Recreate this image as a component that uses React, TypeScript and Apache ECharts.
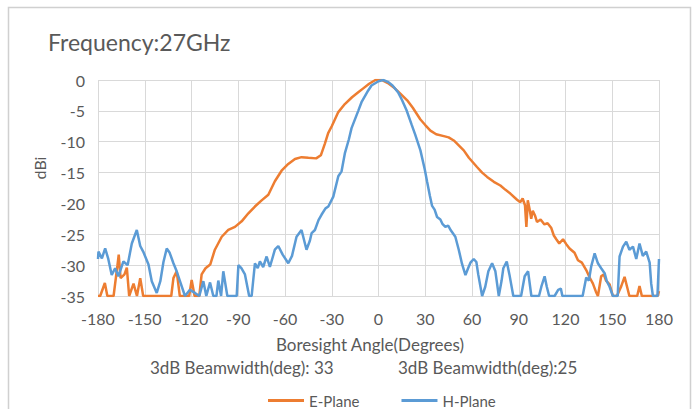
import React, { useEffect, useRef } from "react";
import * as echarts from "echarts";

const titleText = "Frequency:27GHz";
const xAxisTitle = "Boresight Angle(Degrees)";
const yAxisTitle = "dBi";
const beamwidthLabels = ["3dB Beamwidth(deg): 33", "3dB Beamwidth(deg):25"];
const seriesNames = ["E-Plane", "H-Plane"];
const seriesColors = ["#ED7D31", "#5B9BD5"];

const ePlaneAngles = [
  -180, -178.6, -175.6, -174, -170, -167.5, -166.7, -165.5, -163, -161.5, -160, -157.2, -155, -152.9, -151,
  -133, -131.6, -129.5, -127.5, -121.5, -119.9, -118, -115, -113.5, -111, -108, -105, -100.6, -96.4, -92.1,
  -87.8, -83.5, -79.3, -75, -70.7, -66.5, -62.2, -57.9, -53.6, -49.4, -45, -40, -37, -34.4, -32.3, -30,
  -25.8, -21.6, -17, -13, -10, -6, -2, 2, 6, 9.8, 14, 18.4, 22, 26.9, 30, 33.3, 37, 41.9, 45, 48.3, 51.5,
  54.7, 58, 63.2, 66.5, 69.7, 74, 78.2, 81.5, 84.6, 88.9, 91, 92.5, 94, 94.9, 95.8, 97, 98, 99, 100.5, 101.7,
  104, 106.5, 108.5, 110.9, 112.5, 114.1, 116, 118.4, 120.5, 122.6, 125.8, 128, 130.5, 133.3, 135.5, 137.6,
  139.5, 140.8, 142.9, 144.5, 146, 148.3, 150.4, 153, 155.8, 157.9, 159.5, 161, 166, 167.5, 169, 179, 180,
];
const ePlaneGain = [
  -35, -35, -32.9, -35, -35, -30, -28.3, -32.1, -31.5, -30.4, -35, -33, -35, -32.1, -35,
  -35, -32.1, -31, -35, -35, -32.4, -35, -35, -31.5, -30.5, -29.9, -27.5, -25.4, -24.3, -23.8,
  -22.9, -21.6, -20.5, -19.5, -18.6, -16.4, -14.7, -13.6, -12.8, -12.5, -12.6, -12.7, -12.2, -10.3, -8.6, -7.5,
  -5.2, -3.9, -2.8, -2.0, -1.4, -0.6, 0, 0, -0.5, -1.2, -2.2, -3.3, -4.5, -6.4, -7.3, -8.2, -8.8, -9.1, -9.3, -9.8, -10.6,
  -11.4, -12.6, -14.1, -15, -15.7, -16.5, -17.1, -17.8, -18.4, -19.4, -19.8, -19.2, -20.3, -23.8, -19.5, -21, -22.5, -21.2, -22, -23,
  -22.6, -23.4, -23.2, -24, -25.2, -25.8, -26.5, -25.8, -26.6, -27.3, -28, -29.2, -29.6, -30.8, -32, -33,
  -34.3, -35, -31.8, -31.5, -32.5, -33.1, -35, -35, -33.4, -31.9, -33.5, -35, -35, -33.4, -35, -35, -34.2,
];

const hPlaneAngles = [
  -180, -179.7, -177.5, -175.4, -173.5, -171.2, -169, -166.9, -163.7, -161, -158.3, -155.1, -152.9, -151,
  -147.6, -145.5, -142.3, -140, -138, -135.9, -134, -131.6, -129.5, -127.4, -124.2, -121, -117.8, -115,
  -112.4, -110.5, -108.1, -106, -104, -102.8, -101, -99.6, -97, -91, -89.9, -88, -85.7, -83, -81.4, -79.3,
  -77.5, -76.1, -74, -71.8, -69.7, -66.5, -64.3, -61.5, -57.9, -55.5, -52.6, -49.4, -46.2, -44, -42.9,
  -40.8, -38.5, -36.5, -34, -32.2, -29, -25.8, -23.7, -21.6, -19, -17.3, -13, -10.9, -6.6, -4.5, 0, 3, 6,
  9, 12.6, 15, 18, 21.2, 23.5, 26.9, 29.7, 31.2, 33, 34.4, 36, 37.6, 39.7, 41, 42.9, 44.7, 46.5, 49.3, 51.5,
  53.6, 55.8, 57.5, 59, 61.1, 62.8, 64, 66.5, 68.5, 70.5, 72.9, 75, 77.2, 79, 80.1, 82.3, 84, 86.5, 91.5,
  93.8, 96, 98.1, 103, 104.5, 106.6, 108, 109.5, 113, 115.3, 117, 118, 131, 133.3, 135, 136.5, 138.7, 140.8,
  142.9, 145.1, 146.5, 148.3, 150.4, 153.5, 154.7, 156.9, 159, 161, 163.3, 165.4, 167.5, 169.6, 171.8, 174,
  175, 176.1, 179, 180,
];
const hPlaneGain = [
  -29, -27.8, -28.9, -27.3, -28.9, -31.6, -30.5, -31.8, -29.4, -30, -26.5, -24.3, -26.9, -27.8,
  -29.9, -32.6, -34.5, -32.6, -29.5, -27.3, -28, -29.7, -31, -32.6, -35, -34, -34.5, -35,
  -32.6, -35, -32.8, -35, -35, -32.5, -35, -31, -35, -35, -30, -30.5, -31.5, -35, -35, -29.7,
  -30.5, -29.4, -30.3, -28.6, -30.3, -27.5, -26.9, -28.3, -29.7, -28.5, -25.4, -24.3, -27.5, -26, -24.8,
  -24.3, -22.7, -21.8, -20.8, -20.5, -18.9, -15.6, -14.8, -11.9, -9.6, -7.8, -5.0, -3.6, -1.7, -0.9, -0.2, 0, -0.3,
  -0.9, -2.0, -3.2, -4.9, -7.2, -8.8, -11.4, -14.5, -16.5, -18.8, -20.4, -21, -22.2, -22.6, -23.3, -23.8, -23.6, -24.4, -25.4, -27.5,
  -29.8, -31.6, -30.5, -29.6, -29, -29.5, -31.5, -35, -33.5, -31, -29.7, -31, -35, -32.5, -30.5, -29.4, -31.5, -35, -35,
  -31.8, -31, -35, -35, -33.5, -31.8, -33.5, -35, -35, -34, -33.8, -35, -35, -32, -32.5, -30.2, -28.1, -29.7,
  -30.5, -31.3, -32.6, -33.5, -35, -35, -28.6, -27, -26.2, -27.5, -27, -29, -26.5, -28.5, -27.8, -29.6,
  -33, -35, -35, -29,
];

const zip = (xs: number[], ys: number[]) => xs.map((x, i) => [x, ys[i]]);

const FONT = "Lato, 'Open Sans', sans-serif";
const TEXT = "#595959";

export default function App() {
  const ref = useRef<HTMLDivElement>(null);
  useEffect(() => {
    if (!ref.current) return;
    const chart = echarts.init(ref.current, undefined, { renderer: "svg" });
    chart.setOption({
      animation: false,
      backgroundColor: "#ffffff",
      textStyle: { fontFamily: FONT },
      grid: { left: 98, right: 37, top: 80, height: 216, containLabel: false },
      xAxis: {
        type: "value",
        min: -180,
        max: 180,
        interval: 30,
        axisLine: { show: false },
        axisTick: { show: false },
        axisLabel: { color: TEXT, fontSize: 16, fontFamily: FONT, margin: 14 },
        splitLine: { show: true, lineStyle: { color: "#d9d9d9", width: 1 } },
      },
      yAxis: {
        type: "value",
        min: -35,
        max: 0,
        interval: 5,
        axisLine: { show: false },
        axisTick: { show: false },
        axisLabel: { color: TEXT, fontSize: 16, fontFamily: FONT, margin: 13 },
        splitLine: { show: true, lineStyle: { color: "#d9d9d9", width: 1 } },
      },
      legend: {
        data: seriesNames,
        left: 263,
        top: 388,
        icon: "rect",
        itemWidth: 36,
        itemHeight: 3,
        itemGap: 42,
        textStyle: { color: TEXT, fontSize: 15, fontFamily: FONT },
      },
      series: [
        {
          name: seriesNames[0],
          type: "line",
          data: zip(ePlaneAngles, ePlaneGain),
          showSymbol: false,
          symbol: "none",
          lineStyle: { color: seriesColors[0], width: 2.5 },
          itemStyle: { color: seriesColors[0] },
        },
        {
          name: seriesNames[1],
          type: "line",
          data: zip(hPlaneAngles, hPlaneGain),
          showSymbol: false,
          symbol: "none",
          lineStyle: { color: seriesColors[1], width: 2.5 },
          itemStyle: { color: seriesColors[1] },
        },
      ],
      graphic: [
        {
          type: "rect",
          shape: { x: 8.5, y: 7.5, width: 682, height: 420 },
          style: { fill: "none", stroke: "#d0d0d0", lineWidth: 1.5 },
          silent: true,
        },
        {
          type: "text",
          x: 48,
          y: 42,
          style: { text: titleText, fill: TEXT, font: `23px ${FONT}`, align: "left", verticalAlign: "middle" },
        },
        {
          type: "text",
          x: 39,
          y: 168,
          rotation: Math.PI / 2,
          style: { text: yAxisTitle, fill: TEXT, font: `16px ${FONT}`, align: "center", verticalAlign: "middle" },
        },
        {
          type: "text",
          x: 370,
          y: 344,
          style: { text: xAxisTitle, fill: TEXT, font: `17px ${FONT}`, align: "center", verticalAlign: "middle" },
        },
        {
          type: "text",
          x: 150,
          y: 367,
          style: { text: beamwidthLabels[0], fill: TEXT, font: `17px ${FONT}`, align: "left", verticalAlign: "middle" },
        },
        {
          type: "text",
          x: 398,
          y: 367,
          style: { text: beamwidthLabels[1], fill: TEXT, font: `17px ${FONT}`, align: "left", verticalAlign: "middle" },
        },
      ],
    });
    return () => chart.dispose();
  }, []);
  return <div ref={ref} style={{ position: "fixed", left: 0, top: 0, width: 696, height: 409 }} />;
}
